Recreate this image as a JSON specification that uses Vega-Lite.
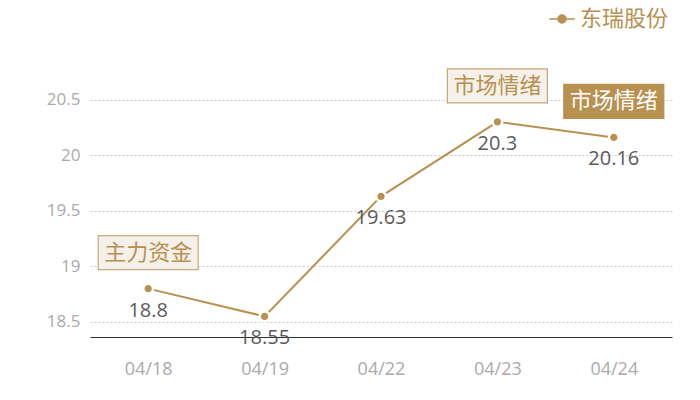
{
  "$schema": "https://vega.github.io/schema/vega-lite/v6.json",
  "autosize": {"type": "none"},
  "padding": {"left": 90, "top": 44, "right": 28, "bottom": 63},
  "width": 582,
  "height": 293,
  "background": "white",
  "config": {
    "font": "Noto Sans CJK SC",
    "view": {"stroke": null}
  },
  "datasets": {
    "price": [
      {"date": "04/18", "value": 18.8, "series": "东瑞股份"},
      {"date": "04/19", "value": 18.55, "series": "东瑞股份"},
      {"date": "04/22", "value": 19.63, "series": "东瑞股份"},
      {"date": "04/23", "value": 20.3, "series": "东瑞股份"},
      {"date": "04/24", "value": 20.16, "series": "东瑞股份"}
    ],
    "notes": [
      {"date": "04/18", "value": 18.8, "label": "主力资金", "kind": "light"},
      {"date": "04/23", "value": 20.3, "label": "市场情绪", "kind": "light"},
      {"date": "04/24", "value": 20.16, "label": "市场情绪", "kind": "dark"}
    ]
  },
  "encoding": {
    "x": {
      "field": "date",
      "type": "ordinal",
      "scale": {"type": "point", "padding": 0.5},
      "axis": {
        "title": null,
        "labelAngle": 0,
        "ticks": false,
        "domainColor": "#333333",
        "labelColor": "#aaaaaa",
        "labelFontSize": 18,
        "labelFont": "Open Sans",
        "labelPadding": 23
      }
    },
    "y": {
      "field": "value",
      "type": "quantitative",
      "scale": {"domain": [18.365, 21], "nice": false, "zero": false},
      "axis": {
        "title": null,
        "values": [18.5, 19, 19.5, 20, 20.5],
        "format": "~g",
        "domain": false,
        "ticks": false,
        "labelColor": "#aaaaaa",
        "labelFontSize": 17,
        "labelFont": "Open Sans",
        "labelPadding": 10,
        "gridColor": "#cccccc",
        "gridDash": [2, 2]
      }
    }
  },
  "layer": [
    {
      "data": {"name": "price"},
      "mark": {"type": "line", "strokeWidth": 2},
      "encoding": {
        "color": {
          "field": "series",
          "type": "nominal",
          "scale": {"range": ["#b8904f"]},
          "legend": {
            "title": null,
            "orient": "none",
            "legendX": 461,
            "legendY": -36,
            "symbolType": "M-1.6,0H1.6M-0.5,0A0.5,0.5 0 1,1 0.5,0A0.5,0.5 0 1,1 -0.5,0Z",
            "symbolSize": 256,
            "symbolStrokeWidth": 1.5,
            "symbolFillColor": "#b8904f",
            "labelFontSize": 22,
            "labelColor": "#b8904f",
            "labelFont": "Noto Sans CJK SC",
            "labelOffset": 7
          }
        }
      }
    },
    {
      "data": {"name": "price"},
      "mark": {"type": "point", "filled": true, "size": 95, "fill": "#b8904f", "stroke": "white", "strokeWidth": 2.5, "strokeOpacity": 1, "opacity": 1}
    },
    {
      "data": {"name": "price"},
      "mark": {"type": "text", "dy": 22, "fontSize": 20, "color": "#5a5a5a", "font": "Open Sans"},
      "encoding": {"text": {"field": "value", "type": "quantitative"}}
    },
    {
      "data": {"name": "notes"},
      "transform": [{"filter": "datum.kind === 'light'"}],
      "mark": {"type": "point", "shape": "M-1,-1.06H1V-0.38H-1Z", "size": 10000, "filled": true, "fill": "#f5f0e9", "stroke": "#c9a878", "strokeWidth": 1.2, "opacity": 1}
    },
    {
      "data": {"name": "notes"},
      "transform": [{"filter": "datum.kind === 'dark'"}],
      "mark": {"type": "point", "shape": "M-1,-1.06H1V-0.38H-1Z", "size": 10000, "filled": true, "fill": "#b8904f", "stroke": "#b8904f", "strokeWidth": 1.2, "opacity": 1}
    },
    {
      "data": {"name": "notes"},
      "transform": [{"filter": "datum.kind === 'light'"}],
      "mark": {"type": "text", "dy": -36, "fontSize": 22, "baseline": "middle", "font": "Noto Sans CJK SC", "fill": "#b8904f"},
      "encoding": {"text": {"field": "label"}}
    },
    {
      "data": {"name": "notes"},
      "transform": [{"filter": "datum.kind === 'dark'"}],
      "mark": {"type": "text", "dy": -36, "fontSize": 22, "baseline": "middle", "font": "Noto Sans CJK SC", "fill": "#ffffff"},
      "encoding": {"text": {"field": "label"}}
    }
  ]
}
